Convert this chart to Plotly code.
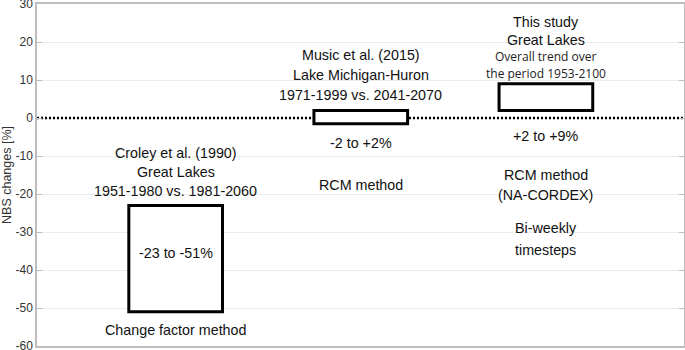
import plotly.graph_objects as go

# Data
studies = ["Croley et al. (1990)", "Music et al. (2015)", "This study"]
study_pos = [1, 2, 3]
low_vals = [-51, -1.5, 2]
high_vals = [-23, 2, 9]
y_ticks = [30, 20, 10, 0, -10, -20, -30, -40, -50, -60]

# Text labels (text, x index, y data, size)
labels = [
    ("Croley et al. (1990)", 0, -9.1, 14.3),
    ("Great Lakes", 0, -14.1, 14.3),
    ("1951-1980 vs. 1981-2060", 0, -19.1, 14.3),
    ("-23 to -51%", 0, -35.5, 14.3),
    ("Change factor method", 0, -55.8, 14.3),
    ("Music et al. (2015)", 1, 16.6, 14.3),
    ("Lake Michigan-Huron", 1, 11.3, 14.3),
    ("1971-1999 vs. 2041-2070", 1, 6.1, 14.3),
    ("-2 to +2%", 1, -6.6, 14.3),
    ("RCM method", 1, -17.6, 14.3),
    ("This study", 2, 25.3, 14.3),
    ("Great Lakes", 2, 20.5, 14.3),
    ("+2 to +9%", 2, -4.7, 14.3),
    ("RCM method", 2, -15.0, 14.3),
    ("(NA-CORDEX)", 2, -20.3, 14.3),
    ("Bi-weekly", 2, -28.9, 14.3),
    ("timesteps", 2, -34.7, 14.3),
]
small_labels = [
    ("Overall trend over", 2, 16.1),
    ("the period 1953-2100", 2, 11.8),
]

half_w = 0.253
x_min, x_max = 0.251, 3.746

fig = go.Figure()

# zero dotted line
fig.add_trace(go.Scatter(x=[x_min, x_max], y=[0, 0], mode="lines",
                         line=dict(color="black", width=2.6, dash="2px,2px"),
                         hoverinfo="skip", showlegend=False))

shapes = []
for xc, lo, hi in zip(study_pos, low_vals, high_vals):
    shapes.append(dict(type="rect", xref="x", yref="y",
                       x0=xc - half_w, x1=xc + half_w, y0=lo, y1=hi,
                       line=dict(color="black", width=3), fillcolor="white",
                       layer="above"))

annotations = []
for txt, i, yv, sz in labels:
    annotations.append(dict(x=study_pos[i], y=yv, xref="x", yref="y", text=txt,
                            showarrow=False, xanchor="center", yanchor="middle",
                            font=dict(family="Liberation Sans, Arial", size=sz, color="#111111")))
for txt, i, yv in small_labels:
    annotations.append(dict(x=study_pos[i], y=yv, xref="x", yref="y", text=txt,
                            showarrow=False, xanchor="center", yanchor="middle",
                            font=dict(family="Open Sans, Noto Sans", size=12, color="#222222")))

fig.update_layout(
    width=685, height=350,
    margin=dict(l=37, r=1, t=4, b=4),
    paper_bgcolor="white", plot_bgcolor="white",
    shapes=shapes, annotations=annotations,
    showlegend=False,
    xaxis=dict(range=[x_min, x_max], showgrid=False, zeroline=False,
               showticklabels=False, ticks="", showline=True, mirror=True,
               linecolor="#bdbdbd", linewidth=1.5, automargin=False),
    yaxis=dict(range=[-60, 30], tickvals=y_ticks, ticktext=[str(v) for v in y_ticks],
               showgrid=True, gridcolor="#ececec", gridwidth=1, zeroline=False,
               showline=True, mirror="ticks", linecolor="#bdbdbd", linewidth=1.5,
               ticks="inside", ticklen=5, tickcolor="#bdbdbd", automargin=False,
               ticklabeloverflow="allow",
               tickfont=dict(family="Liberation Sans, Arial", size=12, color="#333333"),
               title=dict(text="NBS changes [%]", standoff=1,
                          font=dict(family="Liberation Sans, Arial", size=12.5, color="#333333"))),
)

fig.write_html("out.html",
               config={"displayModeBar": False},
               post_script="document.body.style.margin='0';document.body.style.padding='0';")
